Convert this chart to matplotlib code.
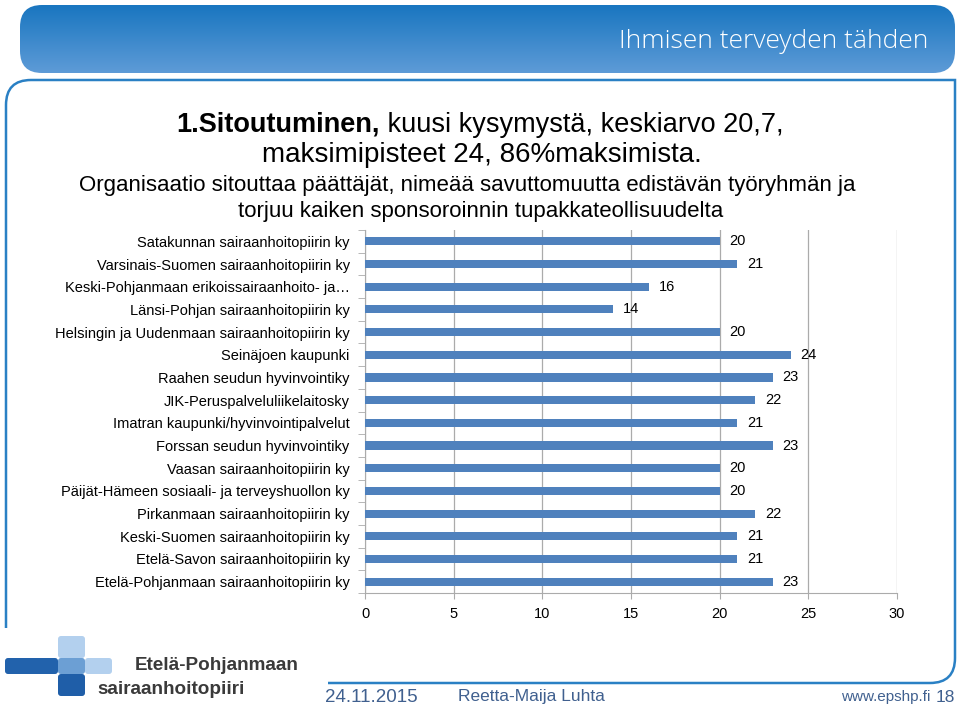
import numpy as np
import matplotlib
matplotlib.use("Agg")
import matplotlib.pyplot as plt
from matplotlib import font_manager
from matplotlib.patches import FancyBboxPatch, PathPatch
from matplotlib.path import Path
from matplotlib.colors import LinearSegmentedColormap

categories = [
    "Satakunnan sairaanhoitopiirin ky",
    "Varsinais-Suomen sairaanhoitopiirin ky",
    "Keski-Pohjanmaan erikoissairaanhoito- ja\u2026",
    "Länsi-Pohjan sairaanhoitopiirin ky",
    "Helsingin ja Uudenmaan sairaanhoitopiirin ky",
    "Seinäjoen kaupunki",
    "Raahen seudun hyvinvointiky",
    "JIK-Peruspalveluliikelaitosky",
    "Imatran kaupunki/hyvinvointipalvelut",
    "Forssan seudun hyvinvointiky",
    "Vaasan sairaanhoitopiirin ky",
    "Päijät-Hämeen sosiaali- ja terveyshuollon ky",
    "Pirkanmaan sairaanhoitopiirin ky",
    "Keski-Suomen sairaanhoitopiirin ky",
    "Etelä-Savon sairaanhoitopiirin ky",
    "Etelä-Pohjanmaan sairaanhoitopiirin ky",
]
values = [20, 21, 16, 14, 20, 24, 23, 22, 21, 23, 20, 20, 22, 21, 21, 23]
x_ticks = [0, 5, 10, 15, 20, 25, 30]

title_bold = "1.Sitoutuminen,"
title_rest = " kuusi kysymystä, keskiarvo 20,7,"
title_line2 = "maksimipisteet 24, 86%maksimista."
subtitle_1 = "Organisaatio sitouttaa päättäjät, nimeää savuttomuutta edistävän työryhmän ja"
subtitle_2 = "torjuu kaiken sponsoroinnin tupakkateollisuudelta"

available = {f.name for f in font_manager.fontManager.ttflist}
narrow = "Liberation Sans Narrow" if "Liberation Sans Narrow" in available else "Liberation Sans"
plt.rcParams['font.family'] = ['Liberation Sans', 'DejaVu Sans']

bar_color = '#4F81BD'
grid_color = '#ABABAB'
frame_color = '#2A80C4'

fig = plt.figure(figsize=(9.6, 7.11), dpi=100)

# decoration layer in pixel coordinates
bg = fig.add_axes([0, 0, 1, 1])
bg.axis('off')

banner = FancyBboxPatch((20, 5), 935, 68, boxstyle="round,pad=0,rounding_size=22",
                        linewidth=0, facecolor='none')
bg.add_patch(banner)
cmap = LinearSegmentedColormap.from_list('banner', ['#1976C0', '#5E9BD7'])
grad = np.linspace(0, 1, 100).reshape(-1, 1)
im = bg.imshow(grad, extent=[20, 955, 73, 5], aspect='auto', cmap=cmap)
im.set_clip_path(banner)
bg.text(928, 41, "Ihmisen terveyden tähden", color='white', fontsize=19,
        family=['Open Sans', 'DejaVu Sans'], fontweight='light', ha='right', va='center')

# frame
verts = [(6, 628), (6, 105), (6, 80), (31, 80), (955, 80), (955, 658),
         (955, 683), (930, 683), (328, 683)]
codes = [Path.MOVETO, Path.LINETO, Path.CURVE3, Path.CURVE3, Path.LINETO, Path.LINETO,
         Path.CURVE3, Path.CURVE3, Path.LINETO]
bg.add_patch(PathPatch(Path(verts, codes), facecolor='none', edgecolor=frame_color, linewidth=1.8))

# logo
logo_parts = [
    ((58, 636), 27, 22, '#B3D0EE'),
    ((5, 658), 53, 16, '#2262AC'),
    ((58, 658), 27, 16, '#6C9FD4'),
    ((85, 658), 27, 16, '#B3D0EE'),
    ((58, 674), 27, 22, '#1F5EA8'),
]
for (x0, y0), w, h, c in logo_parts:
    bg.add_patch(FancyBboxPatch((x0, y0), w, h, boxstyle="round,pad=0,rounding_size=3",
                                facecolor=c, linewidth=0))
bg.text(135, 666, "Etelä-Pohjanmaan", family=narrow, fontweight='bold', fontsize=13.6,
        color='#3A3A3A', ha='left', va='center')
bg.text(97, 690, "sairaanhoitopiiri", family=narrow, fontweight='bold', fontsize=13.6,
        color='#3A3A3A', ha='left', va='center')

footer_color = '#40608F'
bg.text(325, 697, "24.11.2015", fontsize=13.5, color=footer_color, ha='left', va='center')
bg.text(458, 697, "Reetta-Maija Luhta", fontsize=12.5, color=footer_color, ha='left', va='center')
bg.text(930, 697, "www.epshp.fi", fontsize=11, color=footer_color, ha='right', va='center')
bg.text(945, 697, "18", fontsize=12.5, color=footer_color, ha='center', va='center')

# title lines
renderer = fig.canvas.get_renderer()
tb = bg.text(0, 125, title_bold, fontsize=19.5, fontweight='bold', ha='left', va='center')
tr = bg.text(0, 125, title_rest, fontsize=19.5, ha='left', va='center')
wb = tb.get_window_extent(renderer).width
wr = tr.get_window_extent(renderer).width
start = 480 - (wb + wr) / 2
tb.set_x(start)
tr.set_x(start + wb)
bg.text(482, 155, title_line2, fontsize=20, ha='center', va='center')
bg.text(467, 186, subtitle_1, fontsize=16, ha='center', va='center')
bg.text(481, 211, subtitle_2, fontsize=16, ha='center', va='center')

bg.set_xlim(0, 960)
bg.set_ylim(711, 0)

# chart
ax = fig.add_axes([365 / 960, (711 - 593) / 711, 532 / 960, 363 / 711])
ax.set_facecolor('none')
y = np.arange(len(categories))
ax.barh(y, values, height=0.36, color=bar_color, zorder=3)
for yi, v in zip(y, values):
    ax.annotate(str(v), (v, yi), xytext=(7, 0), textcoords='offset points',
                ha='left', va='center', fontsize=10.5, color='black')

ax.set_xlim(0, 30)
ax.set_ylim(len(categories) - 0.5, -0.5)
ax.set_xticks(x_ticks)
ax.set_xticklabels([str(t) for t in x_ticks], fontsize=10.5)
ax.set_yticks(y)
ax.set_yticklabels(categories, fontsize=10.5)
ax.set_yticks(np.arange(len(categories) + 1) - 0.5, minor=True)
ax.tick_params(axis='y', which='major', length=0, pad=11)
ax.tick_params(axis='y', which='minor', length=5, color=grid_color)
ax.tick_params(axis='x', length=4, color=grid_color, pad=6)
ax.grid(axis='x', color=grid_color, linewidth=0.9, zorder=0)
for s in ['top', 'right']:
    ax.spines[s].set_visible(False)
for s in ['left', 'bottom']:
    ax.spines[s].set_color(grid_color)

fig.savefig("out.png", dpi=100)
